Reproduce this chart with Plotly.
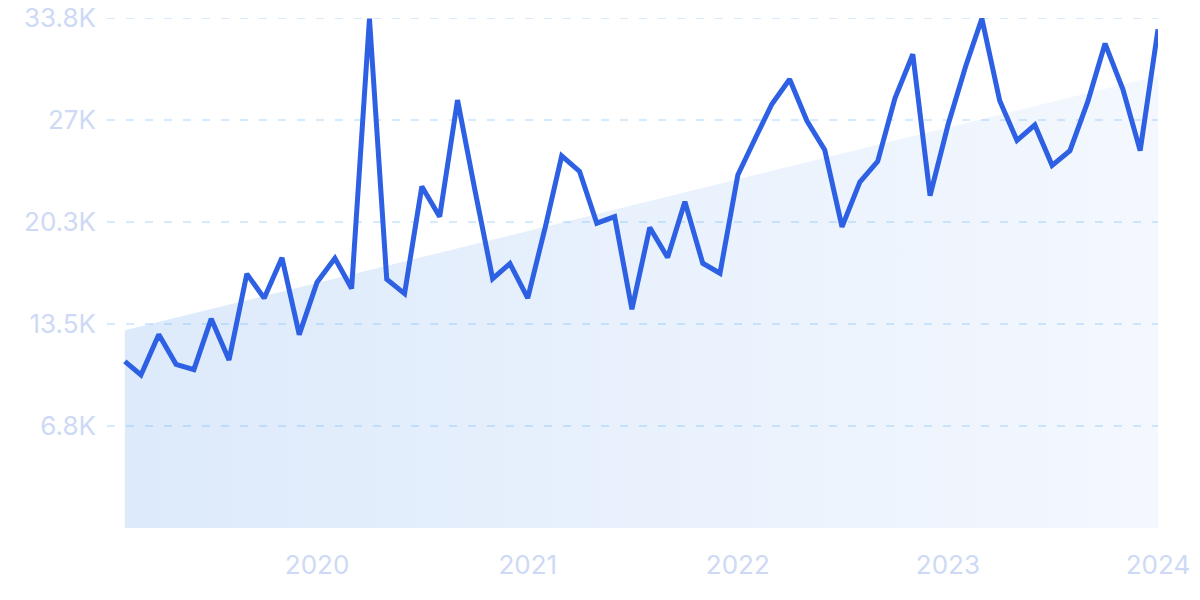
import pandas as pd
import plotly.graph_objects as go

# Monthly data, Feb 2019 .. Jan 2024
months = pd.date_range("2019-02-01", "2024-01-01", freq="MS")
values = [
    11030, 10130, 12800, 10830, 10480, 13840, 11120, 16820, 15210, 17880, 12800,
    16270, 17850, 15850, 33710, 16460, 15510, 22600, 20600, 28320, 22400, 16500,
    17500, 15210, 20000, 24620, 23600, 20170, 20600, 14470, 19890, 17900, 21590,
    17520, 16860, 23360, 25840, 28040, 29700, 26950, 25020, 19930, 22890, 24260,
    28440, 31350, 21990, 26650, 30570, 33710, 28280, 25650, 26670, 24000, 24970,
    28210, 32060, 29030, 24970, 33000,
]

# Trend line endpoints
trend_x = ["2019-02-01", "2024-01-01"]
trend_y = [13080, 29930]

x_range = ["2019-01-01", "2024-01-01"]
ytick_vals = [6750, 13500, 20250, 27000, 33750]
ytick_text = ["6.8K", "13.5K", "20.3K", "27K", "33.8K"]
xtick_vals = ["2020-01-01", "2021-01-01", "2022-01-01", "2023-01-01", "2024-01-01"]
xtick_text = ["2020", "2021", "2022", "2023", "2024"]

label_color = "#cdd9f5"
grid_color = "rgba(110,185,245,0.38)"

fig = go.Figure()

fig.add_trace(go.Scatter(
    x=trend_x, y=trend_y, mode="lines",
    line=dict(width=0, color="rgba(0,0,0,0)"),
    fill="tozeroy",
    fillgradient=dict(
        type="horizontal",
        colorscale=[[0, "#ddeafb"], [1, "#f4f8fe"]],
    ),
    hoverinfo="skip", showlegend=False,
))

# dashed grid lines, drawn above the fill but below the data line
for v in ytick_vals:
    fig.add_trace(go.Scatter(
        x=x_range, y=[v, v], mode="lines",
        line=dict(color=grid_color, width=1.6, dash="8px,11px"),
        hoverinfo="skip", showlegend=False,
    ))

fig.add_trace(go.Scatter(
    x=months, y=values, mode="lines",
    line=dict(color="#2d60e3", width=5),
    showlegend=False,
))

fig.update_layout(
    width=1200, height=600,
    margin=dict(l=107, r=42, t=18, b=72, autoexpand=False),
    paper_bgcolor="white", plot_bgcolor="white",
    font=dict(family="Inter, Lato, sans-serif", size=26, color=label_color),
)

fig.update_xaxes(
    range=x_range,
    tickvals=xtick_vals, ticktext=xtick_text,
    showgrid=False, zeroline=False, showline=False, automargin=False,
    ticks="", ticklabelstandoff=19,
    tickfont=dict(size=26, color=label_color),
)

fig.update_yaxes(
    range=[0, 33750],
    tickvals=ytick_vals, ticktext=ytick_text,
    showgrid=False, zeroline=False, showline=False, automargin=False,
    ticks="", ticklabelstandoff=10,
    tickfont=dict(size=26, color=label_color),
)

fig.write_html(
    "out.html",
    config={"displayModeBar": False},
    post_script="document.body.style.margin='0';document.body.style.overflow='hidden';",
)
